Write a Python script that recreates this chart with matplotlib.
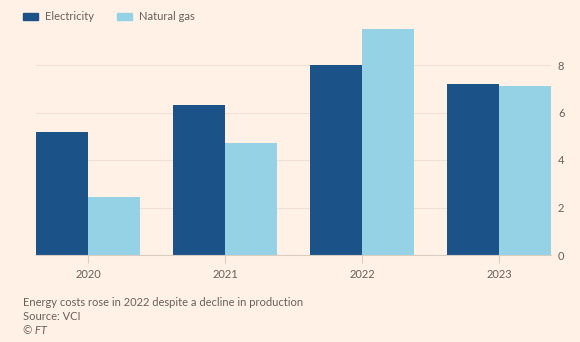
import numpy as np
import matplotlib
matplotlib.use("Agg")
from matplotlib import pyplot as plt
from matplotlib.patches import Rectangle

# energy costs by year
years = ["2020", "2021", "2022", "2023"]
electricity = [5.2, 6.3, 8.0, 7.2]
natural_gas = [2.45, 4.7, 9.5, 7.1]
yticks = [0, 2, 4, 6, 8]

bg = "#fff1e5"
dark = "#1b5288"
light = "#96d2e6"
grey = "#66605c"

plt.rcParams["font.family"] = ["Lato", "DejaVu Sans"]

fig = plt.figure(figsize=(5.8, 3.42), dpi=100, facecolor=bg)
ax = fig.add_axes([36 / 580, 1 - 255 / 342, (551 - 36) / 580, (255 - 27) / 342])
ax.set_facecolor(bg)

x = np.arange(len(years))
w = 0.38
ax.bar(x - w / 2, electricity, w, color=dark, zorder=3)
ax.bar(x + w / 2, natural_gas, w, color=light, zorder=3)

ax.set_xlim(-w, len(years) - 1 + w)
ax.set_ylim(0, 9.6)

ax.set_yticks(yticks)
ax.yaxis.tick_right()
ax.tick_params(axis="y", length=0, pad=5, labelsize=8, labelcolor=grey)
ax.grid(axis="y", color="#f0e0d3", linewidth=0.8, zorder=0)

ax.set_xticks(x)
ax.set_xticklabels(years)
ax.tick_params(axis="x", length=6, color="#d9cdc2", pad=4, labelsize=8, labelcolor=grey)

for s in ["top", "left", "right"]:
    ax.spines[s].set_visible(False)
ax.spines["bottom"].set_color("#d9cdc2")
ax.spines["bottom"].set_zorder(4)

# legend drawn by hand at the top
for x0, col, lab in [(23, dark, "Electricity"), (117, light, "Natural gas")]:
    fig.patches.append(Rectangle((x0 / 580, 1 - 20 / 342), 15 / 580, 7 / 342,
                                 transform=fig.transFigure, color=col))
    fig.text((x0 + 22) / 580, 1 - 16.5 / 342, lab, fontsize=8, color=grey, va="center")

fig.text(23 / 580, 1 - 303 / 342, "Energy costs rose in 2022 despite a decline in production",
         fontsize=8, color=grey, va="center")
fig.text(23 / 580, 1 - 317 / 342, "Source: VCI", fontsize=8, color=grey, va="center")
fig.text(23 / 580, 1 - 331 / 342, "© FT", fontsize=8, color=grey, va="center", style="italic")

fig.savefig("out.png", dpi=100, facecolor=bg)
